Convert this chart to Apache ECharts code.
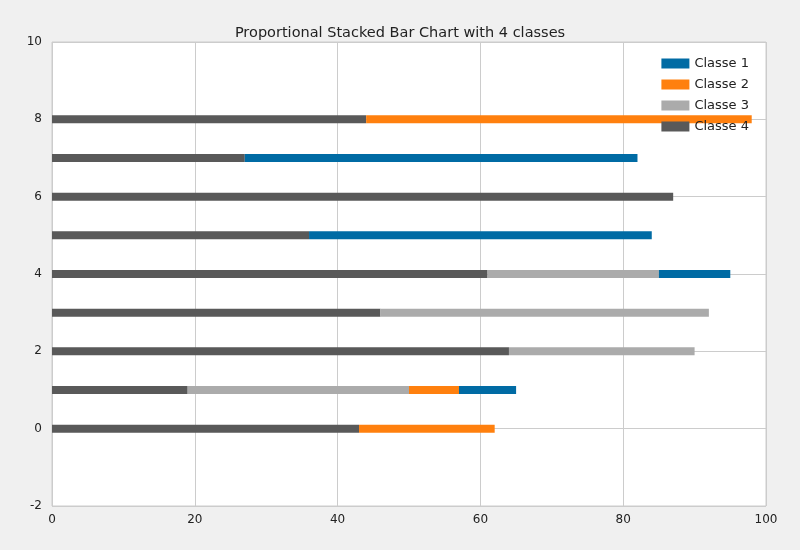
<!DOCTYPE html>
<html><head><meta charset="utf-8">
<script src="https://cdn.jsdelivr.net/npm/echarts@6/dist/echarts.min.js"></script>
<style>body{margin:0;background:#f0f0f0}#c{width:800px;height:550px}</style>
</head><body><div id="c"></div>
<script>
const yCats = ['-2','-1','0','1','2','3','4','5','6','7','8','9','10'];
// values for rows y=0..8
const classe4 = [43,19,64,46,61,36,87,27,44];
const classe3 = [0,31,26,46,24,0,0,0,0];
const classe2 = [19,7,0,0,0,0,0,0,54];
const classe1 = [0,8,0,0,10,48,0,55,0];
const pad = a => [null,null].concat(a).concat([null,null]);
const names = ['Classe 1','Classe 2','Classe 3','Classe 4'];
const colors = {'Classe 1':'#006BA4','Classe 2':'#FF800E','Classe 3':'#ABABAB','Classe 4':'#595959'};
const order = [['Classe 4',classe4],['Classe 3',classe3],['Classe 2',classe2],['Classe 1',classe1]];
const chart = echarts.init(document.getElementById('c'));
chart.setOption({
  backgroundColor:'#f0f0f0',
  animation:false,
  title:{text:'Proportional Stacked Bar Chart with 4 classes',left:'center',top:21,textStyle:{fontSize:14.5,fontWeight:'normal',color:'#222',fontFamily:'DejaVu Sans'}},
  legend:{data:names,orient:'vertical',right:46,top:52,itemWidth:28,itemHeight:10,itemGap:8,icon:'rect',textStyle:{fontSize:13,color:'#222',fontFamily:'DejaVu Sans'}},
  grid:{left:52,right:34,top:42,bottom:44,show:true,backgroundColor:'#fff',borderColor:'#ccc',borderWidth:1},
  xAxis:{type:'value',min:0,max:100,interval:20,axisLine:{show:false},axisTick:{show:false},
    axisLabel:{color:'#222',fontSize:12,fontFamily:'DejaVu Sans'},splitLine:{lineStyle:{color:'#ccc'}}},
  yAxis:{type:'category',data:yCats,boundaryGap:false,axisLine:{show:false},axisTick:{show:false},
    axisLabel:{interval:1,color:'#222',fontSize:12,fontFamily:'DejaVu Sans',margin:10},
    splitLine:{show:true,interval:1,lineStyle:{color:'#ccc'}}},
  series: order.map(([n,a])=>({name:n,type:'bar',stack:'s',barWidth:8,data:pad(a),itemStyle:{color:colors[n]}}))
});
</script></body></html>
